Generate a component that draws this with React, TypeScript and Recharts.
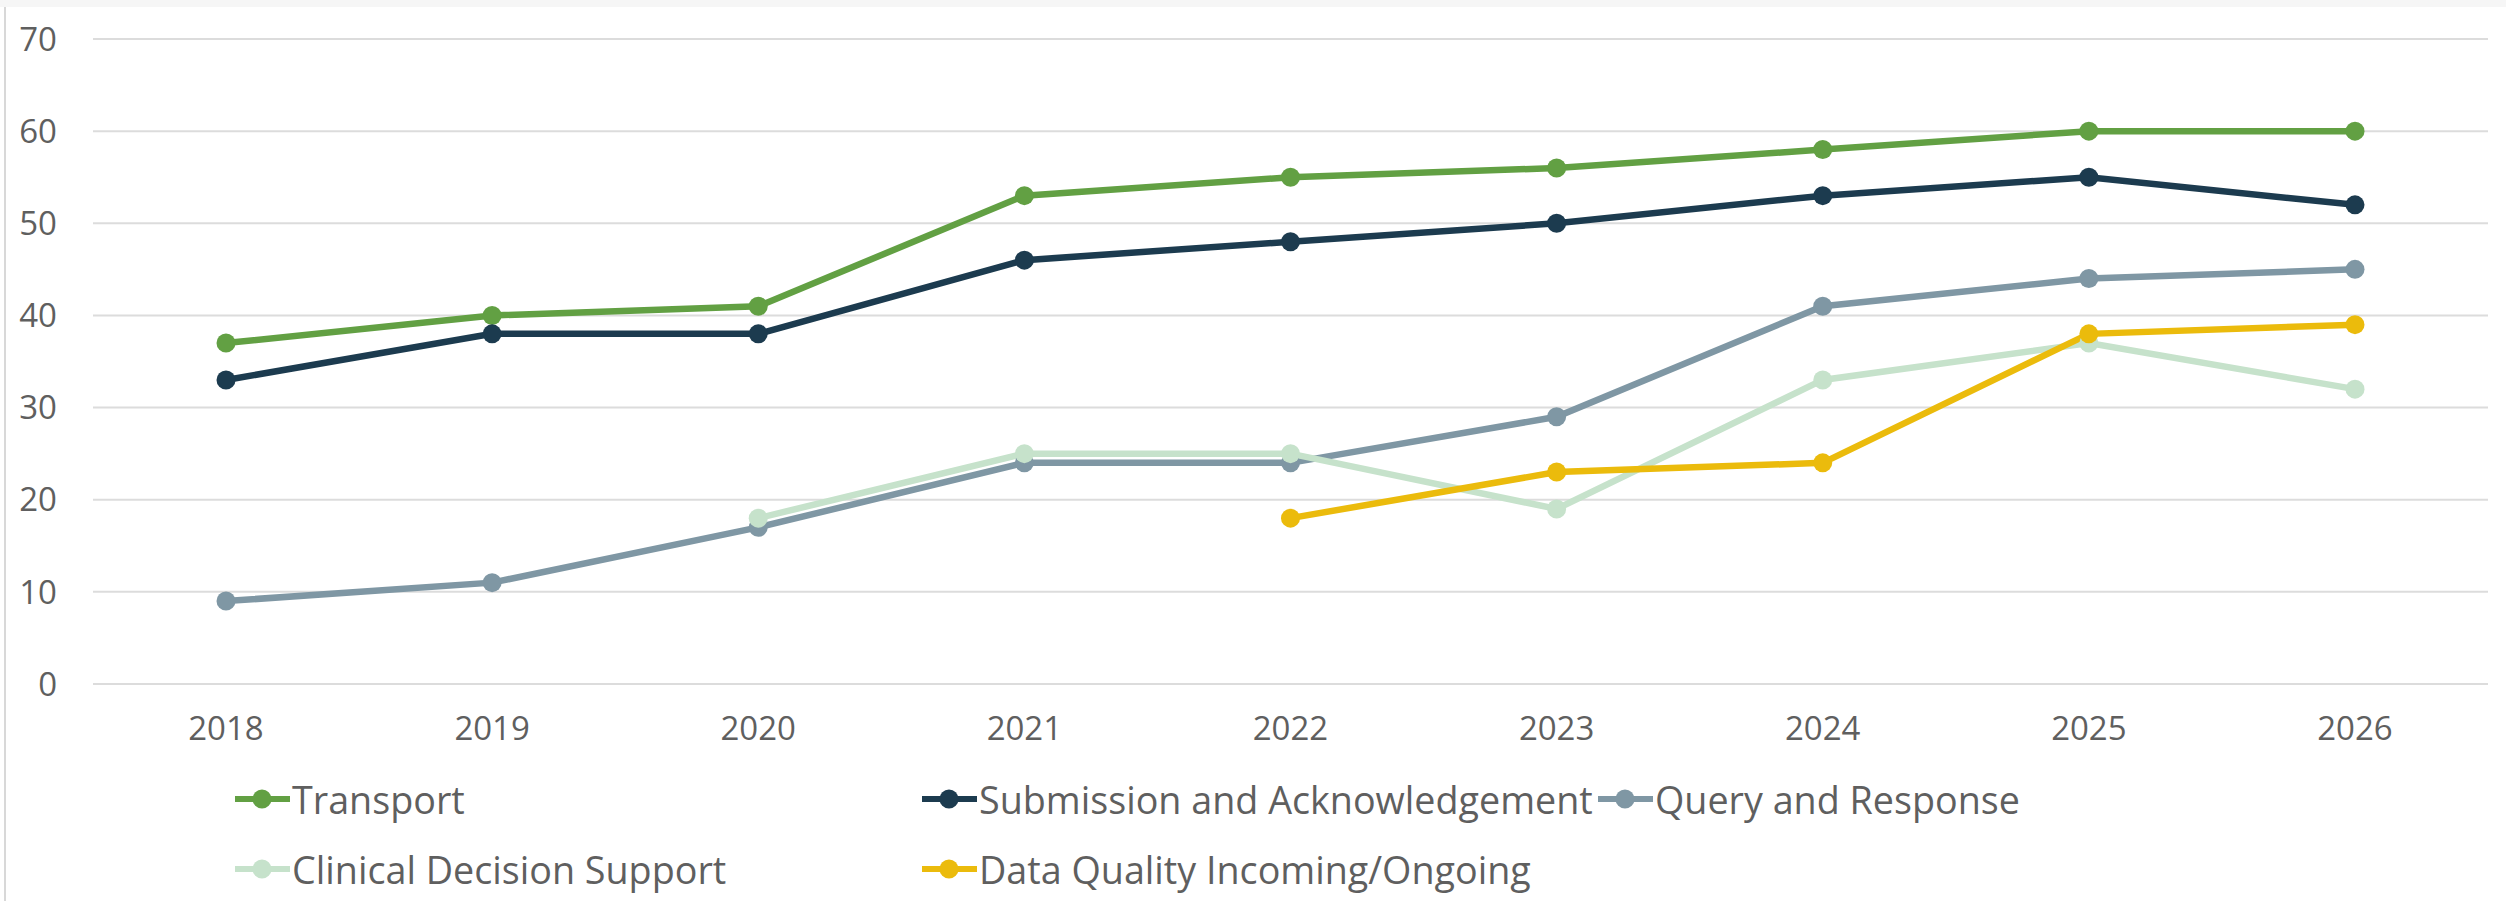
import { LineChart, Line, XAxis, YAxis, CartesianGrid } from 'recharts';

const years = ['2018', '2019', '2020', '2021', '2022', '2023', '2024', '2025', '2026'];
const transport = [37, 40, 41, 53, 55, 56, 58, 60, 60];
const submission = [33, 38, 38, 46, 48, 50, 53, 55, 52];
const query = [9, 11, 17, 24, 24, 29, 41, 44, 45];
const clinical = [null, null, 18, 25, 25, 19, 33, 37, 32];
const dataQuality = [null, null, null, null, 18, 23, 24, 38, 39];
const yTicks = [0, 10, 20, 30, 40, 50, 60, 70];

const SERIES = [
  { key: 'transport', name: 'Transport', color: '#62a043', values: transport },
  { key: 'submission', name: 'Submission and Acknowledgement', color: '#1c3b4f', values: submission },
  { key: 'query', name: 'Query and Response', color: '#7f97a4', values: query },
  { key: 'clinical', name: 'Clinical Decision Support', color: '#c6e2cb', values: clinical },
  { key: 'dataQuality', name: 'Data Quality Incoming/Ongoing', color: '#ebbb0c', values: dataQuality },
];

const data = years.map((year, i) => {
  const row: Record<string, string | number | null> = { year };
  SERIES.forEach((s) => {
    row[s.key] = s.values[i];
  });
  return row;
});

const FONT = '"Open Sans", "Noto Sans", sans-serif';
const TEXT = '#5f5f5f';

// legend rows: first row 3 items, second row 2
const legendRows = [SERIES.slice(0, 3), SERIES.slice(3)];
const legendCols = [687, 676];

function LegendIcon({ color }: { color: string }) {
  return (
    <svg width={55} height={22} style={{ display: 'block' }}>
      <line x1={1} y1={11} x2={54} y2={11} stroke={color} strokeWidth={6} strokeLinecap="round" />
      <circle cx={27} cy={11} r={9.5} fill={color} />
    </svg>
  );
}

export default function App() {
  return (
    <div
      style={{
        position: 'fixed',
        left: 0,
        top: 0,
        width: 2506,
        height: 901,
        background: '#fff',
        fontFamily: FONT,
      }}
    >
      <div style={{ position: 'absolute', left: 0, top: 0, width: 2506, height: 7, background: '#f6f6f6' }} />
      <div style={{ position: 'absolute', left: 4, top: 7, width: 2, height: 894, background: '#d8d8d8' }} />
      <LineChart
        width={2506}
        height={901}
        data={data}
        margin={{ top: 39, right: 18, left: 0, bottom: 157 }}
      >
        <CartesianGrid vertical={false} stroke="#dcdcdc" strokeWidth={2} />
        <XAxis
          dataKey="year"
          axisLine={false}
          tickLine={false}
          tickSize={0}
          tickMargin={33}
          height={60}
          padding={{ left: 133, right: 133 }}
          tick={{ fill: TEXT, fontSize: 33, fontFamily: FONT }}
        />
        <YAxis
          domain={[0, 70]}
          ticks={yTicks}
          width={93}
          axisLine={false}
          tickLine={false}
          tickSize={0}
          tickMargin={36}
          tick={{ fill: TEXT, fontSize: 33, fontFamily: FONT }}
        />
        {SERIES.map((s) => (
          <Line
            key={s.key}
            type="linear"
            dataKey={s.key}
            name={s.name}
            stroke={s.color}
            strokeWidth={6.5}
            dot={{ r: 9.5, fill: s.color, stroke: s.color, strokeWidth: 0 }}
            activeDot={false}
            connectNulls={false}
            isAnimationActive={false}
          />
        ))}
      </LineChart>
      <div style={{ position: 'absolute', left: 235, top: 764 }}>
        {legendRows.map((row, ri) => (
          <div key={ri} style={{ display: 'flex', alignItems: 'center', height: 70 }}>
            {row.map((s, i) => (
              <div
                key={s.key}
                style={{
                  display: 'flex',
                  alignItems: 'center',
                  width: legendCols[i] ?? 'auto',
                }}
              >
                <LegendIcon color={s.color} />
                <span style={{ marginLeft: 2, fontSize: 37.7, color: TEXT, whiteSpace: 'nowrap' }}>{s.name}</span>
              </div>
            ))}
          </div>
        ))}
      </div>
    </div>
  );
}
